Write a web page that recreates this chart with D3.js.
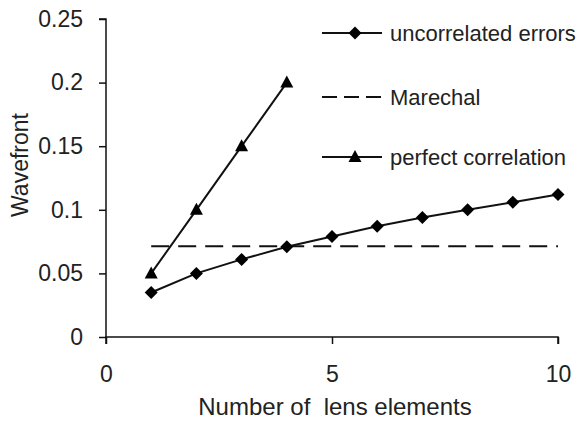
<!DOCTYPE html>
<html><head><meta charset="utf-8">
<script src="https://cdn.jsdelivr.net/npm/d3@7"></script>
<style>body{margin:0;background:#fff;} text{font-family:"Liberation Sans",Arial,sans-serif;fill:#222;}</style>
</head><body>
<svg id="c" width="582" height="422"></svg>
<script>
const lensCounts = [1,2,3,4,5,6,7,8,9,10];
const uncorrelated = [0.035,0.050,0.061,0.071,0.079,0.087,0.094,0.100,0.106,0.112];
const perfectN = [1,2,3,4];
const perfect = [0.05,0.10,0.15,0.20];
const marechalValue = 0.0714;
const marechalRange = [1,10];
const xTicks = [0,5,10];
const yTicks = [0,0.05,0.1,0.15,0.2,0.25];
const seriesNames = ["uncorrelated errors","Marechal","perfect correlation"];

const svg = d3.select("#c");
const x = d3.scaleLinear().domain([0,10]).range([106,558]);
const y = d3.scaleLinear().domain([0,0.25]).range([337,19]);
const fs = 23;
const ink = "#111";

// axes
const yAxis = svg.append("g").attr("transform","translate(106,0)")
  .call(d3.axisLeft(y).tickValues(yTicks).tickFormat(d=>String(d)).tickSize(7).tickPadding(16));
const xAxis = svg.append("g").attr("transform","translate(0,337)")
  .call(d3.axisBottom(x).tickValues(xTicks).tickFormat(d=>String(d)).tickSize(7).tickPadding(22));
[yAxis,xAxis].forEach(g=>{
  g.select(".domain").attr("stroke",ink).attr("stroke-width",1.5);
  g.selectAll(".tick line").attr("stroke",ink).attr("stroke-width",1.5);
  g.selectAll(".tick text").attr("font-size",fs).attr("fill","#222")
    .attr("font-family","Liberation Sans, Arial, sans-serif");
});
yAxis.select(".domain").attr("d","M-7,19H0V337");
xAxis.select(".domain").attr("d","M106,7V0H558V7");

// titles
svg.append("text").attr("x",335).attr("y",415).attr("text-anchor","middle")
  .attr("font-size",24).attr("xml:space","preserve").text("Number of  lens elements");
svg.append("text").attr("transform","translate(28,165) rotate(-90)").attr("text-anchor","middle")
  .attr("font-size",fs).text("Wavefront");

// lines
const line = d3.line().x(d=>x(d[0])).y(d=>y(d[1]));
const unc = lensCounts.map((n,i)=>[n,uncorrelated[i]]);
const per = perfectN.map((n,i)=>[n,perfect[i]]);
svg.append("path").attr("d",line(marechalRange.map(n=>[n,marechalValue])))
  .attr("fill","none").attr("stroke",ink).attr("stroke-width",2).attr("stroke-dasharray","18,9");
svg.append("path").attr("d",line(unc)).attr("fill","none").attr("stroke",ink).attr("stroke-width",2);
svg.append("path").attr("d",line(per)).attr("fill","none").attr("stroke",ink).attr("stroke-width",2);

const diamond = "M0,-6.5L6.5,0L0,6.5L-6.5,0Z";
const tri = "M0,-7L6.5,5L-6.5,5Z";
svg.selectAll(".dm").data(unc).enter().append("path")
  .attr("d",diamond).attr("fill","#000").attr("transform",d=>`translate(${x(d[0])},${y(d[1])})`);
svg.selectAll(".tr").data(per).enter().append("path")
  .attr("d",tri).attr("fill","#000").attr("transform",d=>`translate(${x(d[0])},${y(d[1])})`);

// legend
const ly = [33,97,157];
const lg = svg.append("g");
lg.append("line").attr("x1",322).attr("x2",382).attr("y1",ly[0]).attr("y2",ly[0]).attr("stroke",ink).attr("stroke-width",2);
lg.append("path").attr("d",diamond).attr("fill","#000").attr("transform",`translate(355,${ly[0]})`);
lg.append("line").attr("x1",322).attr("x2",382).attr("y1",ly[1]).attr("y2",ly[1]).attr("stroke",ink).attr("stroke-width",2).attr("stroke-dasharray","15,7");
lg.append("line").attr("x1",322).attr("x2",382).attr("y1",ly[2]).attr("y2",ly[2]).attr("stroke",ink).attr("stroke-width",2);
lg.append("path").attr("d",tri).attr("fill","#000").attr("transform",`translate(355,${ly[2]})`);
seriesNames.forEach((s,i)=>{
  lg.append("text").attr("x",390).attr("y",ly[i]).attr("dy","0.35em").attr("font-size",22).text(s);
});
</script>
</body></html>
